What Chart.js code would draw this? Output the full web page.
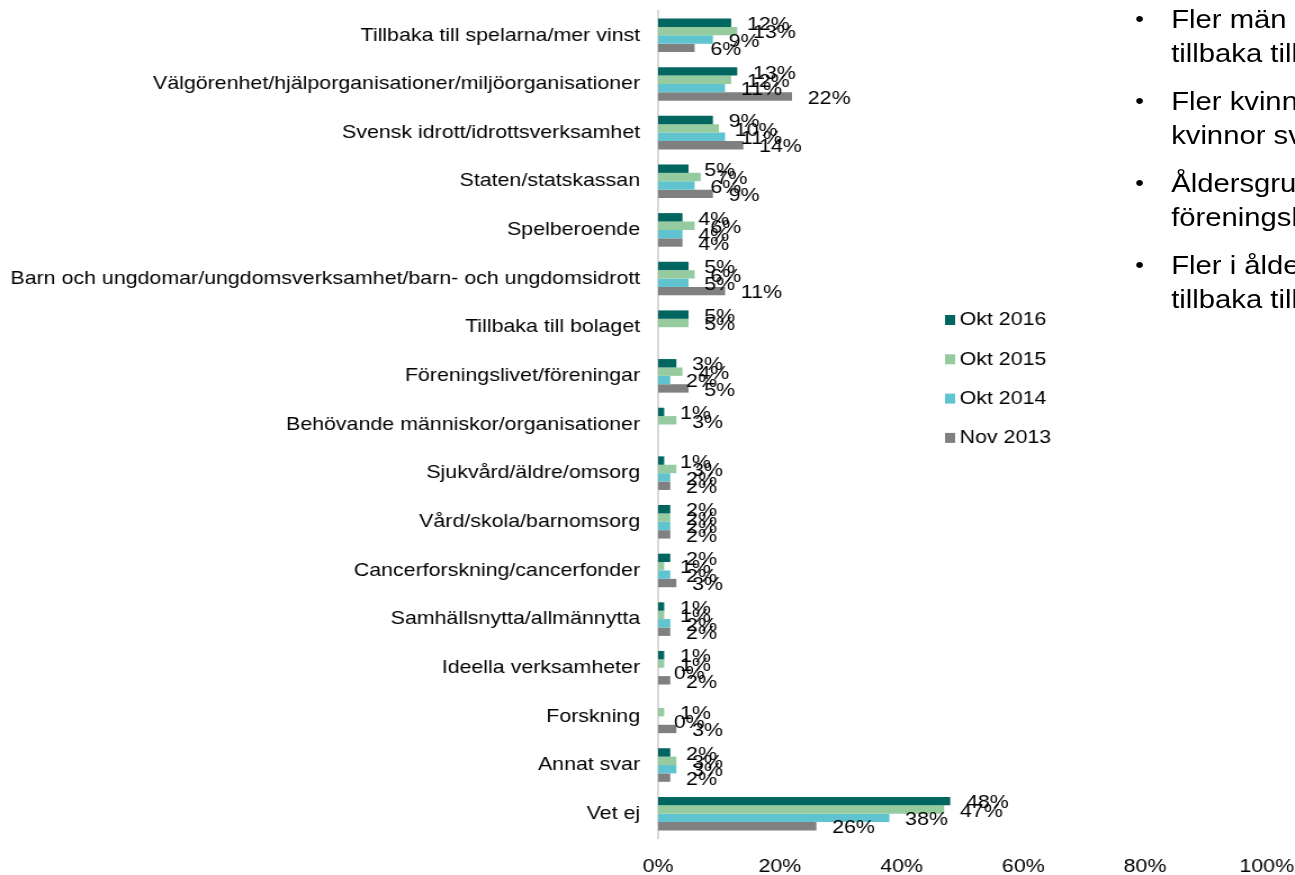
<!DOCTYPE html>
<html>
<head>
<meta charset="utf-8">
<script src="https://cdn.jsdelivr.net/npm/chart.js@4.4.1/dist/chart.umd.min.js"></script>
<style>
  html, body { margin: 0; padding: 0; background: #fff; overflow: hidden; width: 1295px; height: 875px; }
  #stage { position: absolute; left: 0; top: 0; width: 1151px; height: 875px; transform: scaleX(1.125); transform-origin: 0 0; }
  #c { position: absolute; left: 0; top: 0; }
  #notes { position: absolute; left: 1009px; top: 2px; font-family: "Liberation Sans", Arial, sans-serif; font-size: 26px; color: #000; white-space: nowrap; }
  #notes .item { position: relative; padding-left: 32px; line-height: 34px; margin-bottom: 14px; }
  #notes .item::before { content: "•"; position: absolute; left: 0; top: 0; font-size: 22px; }
</style>
</head>
<body>
<div id="stage">
  <canvas id="c" width="1151" height="875"></canvas>
  <div id="notes">
    <div class="item">Fler män än kvinnor tror att pengarna går<br>tillbaka till spelarna/mer vinst</div>
    <div class="item">Fler kvinnor än män svarar vet ej, 53% av<br>kvinnor svarar vet ej</div>
    <div class="item">Åldersgruppen 65+ nämner oftare<br>föreningslivet/föreningar</div>
    <div class="item">Fler i åldern 18-29 år tror att pengarna går<br>tillbaka till spelarna/mer vinst</div>
  </div>
</div>
<script>
const categories = [
  "Tillbaka till spelarna/mer vinst",
  "Välgörenhet/hjälporganisationer/miljöorganisationer",
  "Svensk idrott/idrottsverksamhet",
  "Staten/statskassan",
  "Spelberoende",
  "Barn och ungdomar/ungdomsverksamhet/barn- och ungdomsidrott",
  "Tillbaka till bolaget",
  "Föreningslivet/föreningar",
  "Behövande människor/organisationer",
  "Sjukvård/äldre/omsorg",
  "Vård/skola/barnomsorg",
  "Cancerforskning/cancerfonder",
  "Samhällsnytta/allmännytta",
  "Ideella verksamheter",
  "Forskning",
  "Annat svar",
  "Vet ej"
];
const seriesNames = ["Okt 2016", "Okt 2015", "Okt 2014", "Nov 2013"];
const okt2016 = [12, 13, 9, 5, 4, 5, 5, 3, 1, 1, 2, 2, 1, 1, null, 2, 48];
const okt2015 = [13, 12, 10, 7, 6, 6, 5, 4, 3, 3, 2, 1, 1, 1, 1, 3, 47];
const okt2014 = [9, 11, 11, 6, 4, 5, null, 2, null, 2, 2, 2, 2, 0, 0, 3, 38];
const nov2013 = [6, 22, 14, 9, 4, 11, null, 5, null, 2, 2, 3, 2, 2, 3, 2, 26];
const xTicks = [0, 20, 40, 60, 80, 100];
const colors = ["#00665f", "#95cb9f", "#5fc4cf", "#808080"];

const FONT = "'Liberation Sans', Arial, sans-serif";

const valueLabels = {
  id: 'valueLabels',
  afterDatasetsDraw(chart) {
    const ctx = chart.ctx;
    ctx.save();
    ctx.font = "19px " + FONT;
    ctx.fillStyle = "#000";
    ctx.textAlign = "left";
    ctx.textBaseline = "middle";
    chart.data.datasets.forEach((ds, i) => {
      const meta = chart.getDatasetMeta(i);
      meta.data.forEach((bar, j) => {
        const v = ds.data[j];
        if (v === null || v === undefined) return;
        ctx.fillText(v + "%", bar.x + 14, bar.y + 2);
      });
    });
    ctx.restore();
  }
};

const legendPlugin = {
  id: 'customLegend',
  afterDraw(chart) {
    const ctx = chart.ctx;
    ctx.save();
    ctx.font = "19px " + FONT;
    ctx.textBaseline = "middle";
    ctx.textAlign = "left";
    chart.data.datasets.forEach((ds, i) => {
      const y = 320 + i * 39.3;
      ctx.fillStyle = ds.backgroundColor;
      ctx.fillRect(840, y - 5, 9, 10);
      ctx.fillStyle = "#000";
      ctx.fillText(ds.label, 853, y);
    });
    ctx.restore();
  }
};

const allSeries = [okt2016, okt2015, okt2014, nov2013];

new Chart(document.getElementById('c'), {
  type: 'bar',
  data: {
    labels: categories,
    datasets: allSeries.map((d, i) => ({
      label: seriesNames[i],
      data: d,
      backgroundColor: colors[i],
      borderWidth: 0,
      categoryPercentage: 0.69,
      barPercentage: 1.0
    }))
  },
  options: {
    indexAxis: 'y',
    responsive: false,
    animation: false,
    events: [],
    layout: { padding: { top: 11, right: 25, left: 0, bottom: 0 } },
    plugins: { legend: { display: false }, tooltip: { enabled: false } },
    scales: {
      x: {
        min: 0, max: 100,
        afterBuildTicks(s) { s.ticks = xTicks.map(v => ({ value: v })); },
        afterFit(s) { s.height = 37; s.paddingLeft = 0; s.paddingRight = 0; },
        grid: { display: false, drawTicks: false },
        border: { display: false },
        ticks: { padding: 17, color: "#000", font: { family: FONT, size: 19 }, callback: v => v + "%" }
      },
      y: {
        afterFit(s) { s.width = 585; s.paddingTop = 0; s.paddingBottom = 0; },
        grid: { display: false, drawTicks: false },
        border: { display: true, color: "#d9d9d9", width: 2 },
        ticks: { padding: 16, color: "#000", font: { family: FONT, size: 19 }, autoSkip: false }
      }
    }
  },
  plugins: [valueLabels, legendPlugin]
});
</script>
</body>
</html>
